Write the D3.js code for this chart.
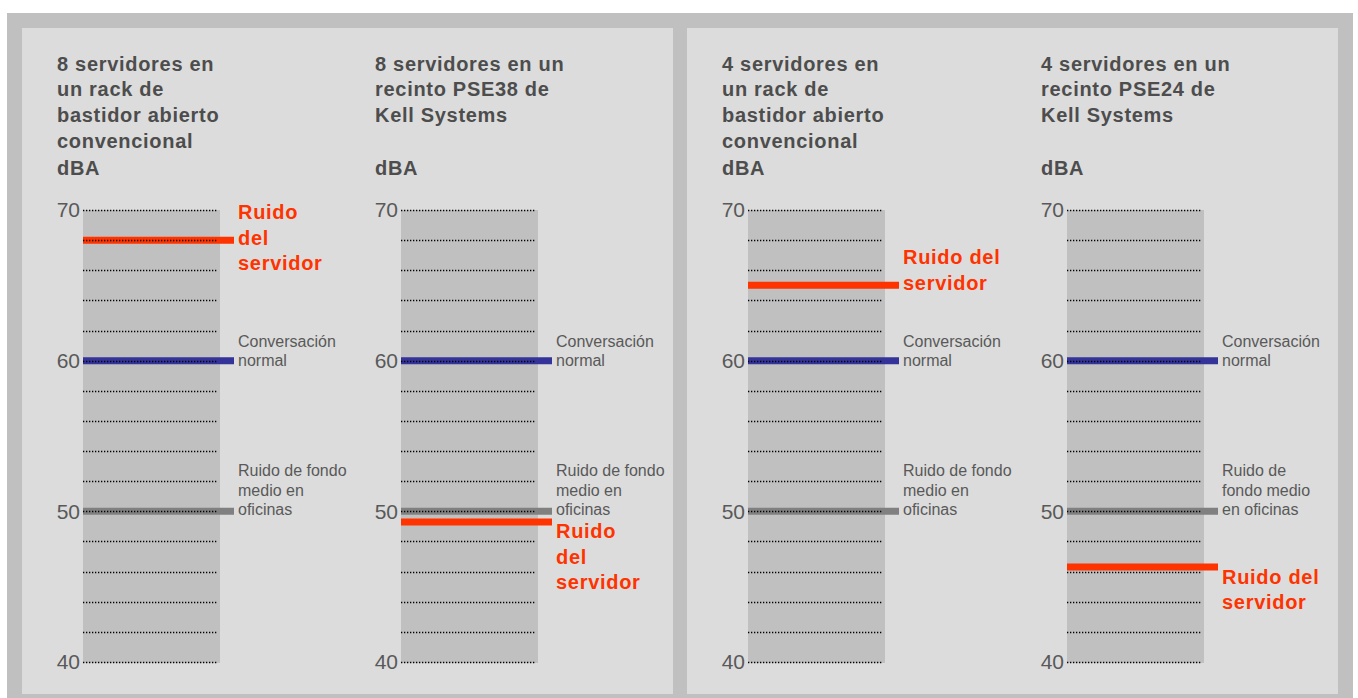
<!DOCTYPE html>
<html><head><meta charset="utf-8">
<script src="https://cdn.jsdelivr.net/npm/d3@7"></script>
<style>
body{margin:0;background:#fff}
svg{display:block}
text{font-family:"Liberation Sans",Arial,Helvetica,sans-serif}
</style>
</head><body>
<svg id="c" width="1358" height="698"></svg>
<script>
// ---------- data ----------
const chartTitles = [
  ["8 servidores en", "un rack de", "bastidor abierto", "convencional"],
  ["8 servidores en un", "recinto PSE38 de", "Kell Systems"],
  ["4 servidores en", "un rack de", "bastidor abierto", "convencional"],
  ["4 servidores en un", "recinto PSE24 de", "Kell Systems"]
];
const unitLabel = "dBA";
const yDomain = [40, 70];
const yTickLabels = [40, 50, 60, 70];
const serverNoise = [68, 49.3, 65, 46.3];
const conversationLevel = [60, 60, 60, 60];
const officeNoise = [50, 50, 50, 50];
const serverLabels = [
  ["Ruido", "del", "servidor"],
  ["Ruido", "del", "servidor"],
  ["Ruido del", "servidor"],
  ["Ruido del", "servidor"]
];
const conversationLabels = [
  ["Conversación", "normal"],
  ["Conversación", "normal"],
  ["Conversación", "normal"],
  ["Conversación", "normal"]
];
const officeLabels = [
  ["Ruido de fondo", "medio en", "oficinas"],
  ["Ruido de fondo", "medio en", "oficinas"],
  ["Ruido de fondo", "medio en", "oficinas"],
  ["Ruido de", "fondo medio", "en oficinas"]
];
const serverLabelPlacement = ["middle", "below", "above", "below"];

// ---------- layout ----------
const svg = d3.select("#c");
svg.append("rect").attr("x", 7).attr("y", 13).attr("width", 1346).attr("height", 685).attr("fill", "#c0c0c0");
svg.append("rect").attr("x", 22).attr("y", 28).attr("width", 651).attr("height", 666).attr("fill", "#dcdcdc");
svg.append("rect").attr("x", 687).attr("y", 28).attr("width", 651).attr("height", 666).attr("fill", "#dcdcdc");

const chartX = [83, 401, 748, 1067];
const barW = 137, lineLen = 151, labelX = 155;
const y = d3.scaleLinear().domain(yDomain).range([662, 210]);

const COLORS = {server: "#ff3300", conv: "#333399", office: "#808080"};

function multiLine(g, lines, x, firstCenter, lh) {
  const t = g.append("text").attr("x", x).attr("y", firstCenter);
  lines.forEach((l, i) => {
    t.append("tspan").attr("x", x).attr("y", firstCenter + i * lh).attr("dy", "0.35em").text(l);
  });
  return t;
}

chartTitles.forEach((title, i) => {
  const g = svg.append("g").attr("transform", `translate(${chartX[i]},0)`);

  // title
  const tt = g.append("text").attr("x", -26).attr("y", 70.7)
    .attr("font-size", 20).attr("font-weight", "bold").attr("fill", "#4d4d4d")
    .attr("letter-spacing", 0.7);
  title.forEach((l, k) => tt.append("tspan").attr("x", -26).attr("y", 70.7 + k * 25.7).text(l));
  g.append("text").attr("x", -26).attr("y", 175).attr("font-size", 20).attr("font-weight", "bold")
    .attr("fill", "#4d4d4d").attr("letter-spacing", 0.7).text(unitLabel);

  // bar
  g.append("rect").attr("x", 0).attr("y", y(yDomain[1])).attr("width", barW)
    .attr("height", y(yDomain[0]) - y(yDomain[1]) + 1).attr("fill", "#c0c0c0");

  // reference lines
  const refs = [
    {v: officeNoise[i], c: COLORS.office},
    {v: conversationLevel[i], c: COLORS.conv},
    {v: serverNoise[i], c: COLORS.server}
  ];
  g.selectAll("line.ref").data(refs).join("line").attr("class", "ref")
    .attr("x1", 0).attr("x2", lineLen)
    .attr("y1", d => y(d.v)).attr("y2", d => y(d.v))
    .attr("stroke", d => d.c).attr("stroke-width", 7);

  // dotted gridlines
  g.selectAll("line.grid").data(y.ticks(15)).join("line").attr("class", "grid")
    .attr("x1", 0).attr("x2", barW - 3)
    .attr("y1", d => Math.round(y(d)) + 0.5).attr("y2", d => Math.round(y(d)) + 0.5)
    .attr("stroke", "#000").attr("stroke-width", 1.3).attr("stroke-dasharray", "1.3,1.7");

  // axis tick labels
  const ax = g.append("g").call(d3.axisLeft(y).tickValues(yTickLabels).tickSize(0).tickPadding(3));
  ax.select(".domain").remove();
  ax.selectAll("text").attr("font-size", 21).attr("fill", "#595959")
    .attr("font-family", '"Liberation Sans",Arial,sans-serif');

  // labels
  const glh = 19.7;
  const cl = conversationLabels[i];
  multiLine(g, cl, labelX, y(conversationLevel[i]) - (cl.length - 1) * glh, glh)
    .attr("font-size", 16).attr("fill", "#595959");
  const ol = officeLabels[i];
  multiLine(g, ol, labelX, y(officeNoise[i]) - 1.5 - (ol.length - 1) * glh, glh)
    .attr("font-size", 16).attr("fill", "#595959");

  const sl = serverLabels[i], rlh = 25.5, sy = y(serverNoise[i]);
  let first;
  if (serverLabelPlacement[i] === "above") first = sy - 2.5 - (sl.length - 1) * rlh;
  else if (serverLabelPlacement[i] === "below") first = sy + 9.5;
  else first = sy - 2.5 - (sl.length - 1) * rlh / 2;
  multiLine(g, sl, labelX, first, rlh)
    .attr("font-size", 20).attr("font-weight", "bold").attr("fill", COLORS.server).attr("letter-spacing", 0.7);
});
</script>
</body></html>
